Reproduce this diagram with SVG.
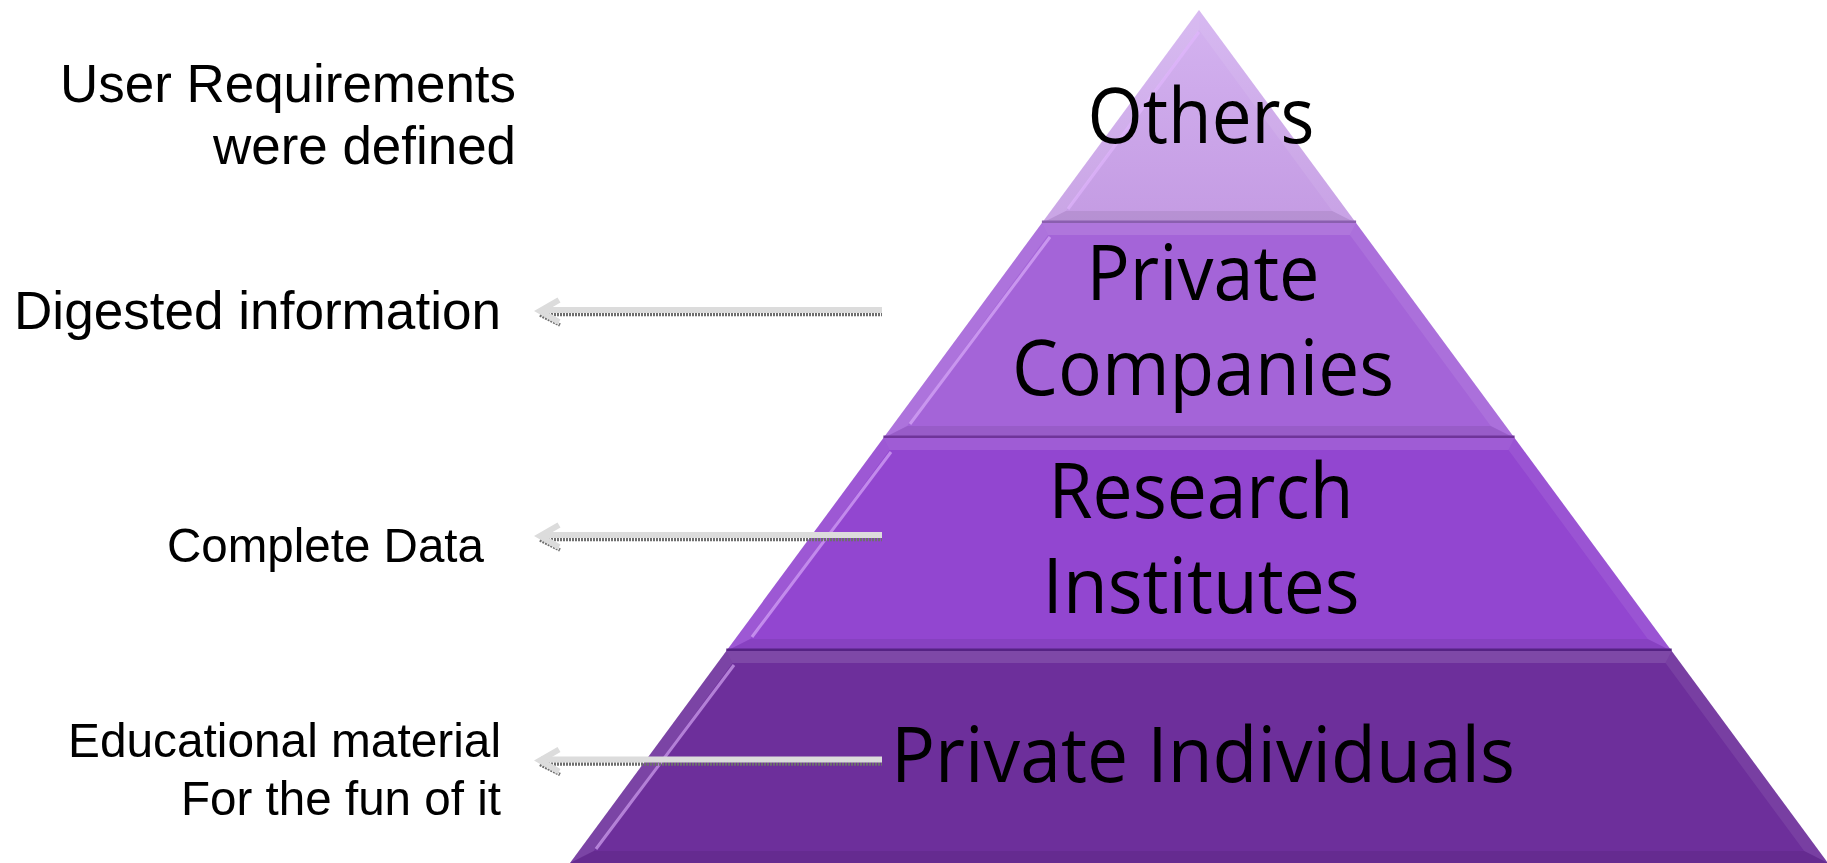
<svg xmlns="http://www.w3.org/2000/svg" width="1827" height="863" viewBox="0 0 1827 863">
<defs>
<linearGradient id="g1" x1="0" y1="0" x2="0" y2="1">
<stop offset="0" stop-color="#d4b3f0"/>
<stop offset="1" stop-color="#c49be3"/>
</linearGradient>
</defs>
<style>
.lbl{font-family:"Liberation Sans",Arial,sans-serif;fill:#000;text-anchor:end}
.big{font-size:53px}
.small{font-size:49px}
.tier{font-family:"Open Sans","Noto Sans",sans-serif;font-size:76px;fill:#000;text-anchor:middle}
.tf{fill:#ffffff;opacity:0.12}
.rf{fill:#ffffff;opacity:0.08}
.bf{fill:#000000;opacity:0.07}
.lf{fill:#ffffff;opacity:0.10}
.hl{stroke:#e2b8ff;stroke-width:3;fill:none;opacity:0.6}
.sep{stroke-width:3}
.ash{stroke:#6e6e6e;stroke-width:3.5;fill:none;stroke-dasharray:2 1}
.alt{stroke:#dcdcdc;stroke-width:6;fill:none;stroke-linejoin:miter}
</style>
<rect width="1827" height="863" fill="#ffffff"/>

<g id="tier-others">
<polygon points="1199,10 1356.1,223 1041.9,223" fill="url(#g1)"/>
<polygon class="rf" points="1199,10 1356.1,223 1332.2,211 1199,30"/>
<polygon class="bf" points="1356.1,223 1041.9,223 1065.8,211 1332.2,211"/>
<polygon class="lf" points="1041.9,223 1199,10 1199,30 1065.8,211"/>
<line class="hl" x1="1199" y1="32" x2="1068" y2="209"/>
<line class="sep" x1="1041.9" y1="222" x2="1356.1" y2="222" stroke="#8a5fae"/>
<text class="tier" x="1201" y="143" textLength="227" lengthAdjust="spacingAndGlyphs">Others</text>
</g>

<g id="tier-private-companies">
<polygon points="1041.9,223 1356.1,223 1514.6,438 883.4,438" fill="#a464d8"/>
<polygon class="tf" points="1041.9,223 1356.1,223 1349.9,235 1048.1,235"/>
<polygon class="rf" points="1356.1,223 1514.6,438 1490.8,426 1349.9,235"/>
<polygon class="bf" points="1514.6,438 883.4,438 907.2,426 1490.8,426"/>
<polygon class="lf" points="883.4,438 1041.9,223 1048.1,235 907.2,426"/>
<line class="hl" x1="1050" y1="237" x2="910" y2="424"/>
<line class="sep" x1="883.4" y1="437" x2="1514.6" y2="437" stroke="#6f3499"/>
<text class="tier" x="1203" y="300" textLength="233" lengthAdjust="spacingAndGlyphs">Private</text>
<text class="tier" x="1203" y="395" textLength="382" lengthAdjust="spacingAndGlyphs">Companies</text>
</g>

<g id="tier-research-institutes">
<polygon points="883.4,438 1514.6,438 1671.7,651 726.3,651" fill="#9246d0"/>
<polygon class="tf" points="883.4,438 1514.6,438 1508.5,450 889.5,450"/>
<polygon class="rf" points="1514.6,438 1671.7,651 1647.8,639 1508.5,450"/>
<polygon class="bf" points="1671.7,651 726.3,651 750.2,639 1647.8,639"/>
<polygon class="lf" points="726.3,651 883.4,438 889.5,450 750.2,639"/>
<line class="hl" x1="891" y1="452" x2="752" y2="637"/>
<line class="sep" x1="726.3" y1="650" x2="1671.7" y2="650" stroke="#552283"/>
<text class="tier" x="1201" y="518" textLength="305" lengthAdjust="spacingAndGlyphs">Research</text>
<text class="tier" x="1201" y="613" textLength="317" lengthAdjust="spacingAndGlyphs">Institutes</text>
</g>

<g id="tier-private-individuals">
<polygon points="726.3,651 1671.7,651 1828,863 570,863" fill="#6d2f9b"/>
<polygon class="tf" points="726.3,651 1671.7,651 1665.5,663 732.5,663"/>
<polygon class="rf" points="1671.7,651 1828,863 1804.2,851 1665.5,663"/>
<polygon class="bf" points="1828,863 570,863 593.8,851 1804.2,851"/>
<polygon class="lf" points="570,863 726.3,651 732.5,663 593.8,851"/>
<line class="hl" x1="734" y1="665" x2="596" y2="849" opacity="0.45"/>
<text class="tier" x="1203" y="782" textLength="624" lengthAdjust="spacingAndGlyphs">Private Individuals</text>
</g>

<g id="label-user-requirements">
<text class="lbl big" x="516" y="102" textLength="456" lengthAdjust="spacingAndGlyphs">User Requirements</text>
<text class="lbl big" x="516" y="164" textLength="303" lengthAdjust="spacingAndGlyphs">were defined</text>
</g>
<g id="label-digested">
<text class="lbl big" x="501" y="329" textLength="487" lengthAdjust="spacingAndGlyphs">Digested information</text>
</g>
<g id="label-complete">
<text class="lbl small" x="484" y="562" textLength="317" lengthAdjust="spacingAndGlyphs">Complete Data</text>
</g>
<g id="label-educational">
<text class="lbl small" x="501" y="757" textLength="433" lengthAdjust="spacingAndGlyphs">Educational material</text>
<text class="lbl small" x="501" y="815" textLength="320" lengthAdjust="spacingAndGlyphs">For the fun of it</text>
</g>

<g id="connectors">
<g id="arrow-digested">
<line class="ash" x1="545" y1="314.5" x2="882" y2="314.5"/>
<polyline class="ash" points="540,315 560,325"/>
<line class="alt" x1="541" y1="310" x2="882" y2="310"/>
<polyline class="alt" points="559,300 540,311 559,322"/>
</g>
<g id="arrow-complete">
<line class="ash" x1="545" y1="539.5" x2="882" y2="539.5"/>
<polyline class="ash" points="540,540 560,550"/>
<line class="alt" x1="541" y1="535" x2="882" y2="535"/>
<polyline class="alt" points="559,525 540,536 559,547"/>
</g>
<g id="arrow-educational">
<line class="ash" x1="545" y1="764" x2="882" y2="764"/>
<polyline class="ash" points="540,764.5 560,774.5"/>
<line class="alt" x1="541" y1="759.5" x2="882" y2="759.5"/>
<polyline class="alt" points="559,749.5 540,760.5 559,771.5"/>
</g>
</g>
</svg>
